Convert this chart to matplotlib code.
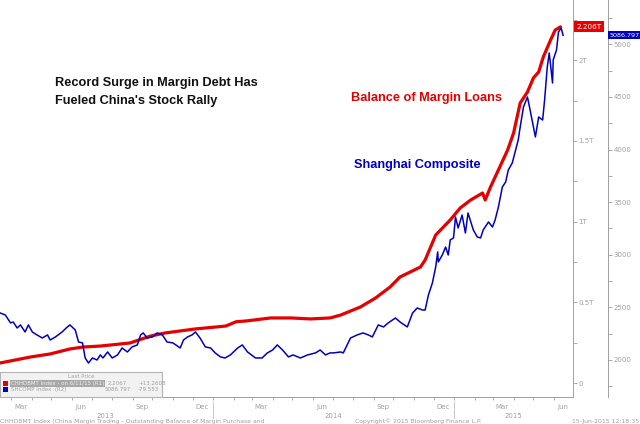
import pandas as pd
import matplotlib
matplotlib.use("Agg")
from matplotlib import pyplot as plt
import matplotlib.dates as mdates
from matplotlib.patches import Rectangle
from matplotlib.ticker import FixedLocator, FixedFormatter, MultipleLocator, FuncFormatter
from matplotlib.transforms import blended_transform_factory

# Balance of margin loans (trillion yuan)
margin_dates = ["2013-02-12", "2013-03-30", "2013-04-29", "2013-05-29", "2013-06-18", "2013-07-14",
                "2013-08-28", "2013-09-28", "2013-10-20", "2013-12-05", "2014-01-20", "2014-02-05",
                "2014-02-19", "2014-03-29", "2014-04-29", "2014-05-28", "2014-06-27", "2014-07-13",
                "2014-08-12", "2014-09-04", "2014-09-26", "2014-10-11", "2014-11-11", "2014-11-18",
                "2014-12-04", "2014-12-26", "2015-01-10", "2015-01-26", "2015-02-13", "2015-02-17",
                "2015-02-25", "2015-03-09", "2015-03-23", "2015-04-01", "2015-04-11", "2015-04-22",
                "2015-05-01", "2015-05-09", "2015-05-16", "2015-05-27", "2015-06-03", "2015-06-11"]
margin_loans = [0.124, 0.161, 0.180, 0.211, 0.223, 0.229,
                0.248, 0.291, 0.310, 0.335, 0.353, 0.380,
                0.384, 0.403, 0.403, 0.397, 0.403, 0.421,
                0.471, 0.527, 0.595, 0.657, 0.719, 0.762,
                0.917, 1.010, 1.084, 1.134, 1.177, 1.134,
                1.214, 1.320, 1.444, 1.549, 1.735, 1.803,
                1.890, 1.927, 2.020, 2.125, 2.187, 2.2067]

# Shanghai Composite index
shcomp_dates = ["2013-02-12", "2013-02-20", "2013-02-28", "2013-03-04", "2013-03-10", "2013-03-15",
                "2013-03-22", "2013-03-27", "2013-04-02", "2013-04-09", "2013-04-17", "2013-04-25",
                "2013-04-29", "2013-05-07", "2013-05-17", "2013-05-25", "2013-05-29", "2013-06-06",
                "2013-06-11", "2013-06-17", "2013-06-21", "2013-06-26", "2013-07-02", "2013-07-09",
                "2013-07-14", "2013-07-18", "2013-07-25", "2013-08-01", "2013-08-09", "2013-08-16",
                "2013-08-24", "2013-08-31", "2013-09-08", "2013-09-13", "2013-09-17", "2013-09-23",
                "2013-10-01", "2013-10-08", "2013-10-16", "2013-10-23", "2013-11-01", "2013-11-12",
                "2013-11-17", "2013-11-23", "2013-11-30", "2013-12-05", "2013-12-12", "2013-12-20",
                "2013-12-28", "2014-01-04", "2014-01-12", "2014-01-19", "2014-01-27", "2014-02-07",
                "2014-02-14", "2014-02-22", "2014-03-06", "2014-03-16", "2014-03-24", "2014-04-01",
                "2014-04-08", "2014-04-16", "2014-04-25", "2014-05-02", "2014-05-13", "2014-05-24",
                "2014-06-05", "2014-06-12", "2014-06-20", "2014-06-27", "2014-07-02", "2014-07-13",
                "2014-07-17", "2014-07-28", "2014-08-07", "2014-08-16", "2014-08-24", "2014-08-30",
                "2014-09-08", "2014-09-16", "2014-09-23", "2014-10-04", "2014-10-11", "2014-10-22",
                "2014-10-30", "2014-11-06", "2014-11-14", "2014-11-18", "2014-11-23", "2014-11-29",
                "2014-12-04", "2014-12-07", "2014-12-08", "2014-12-14", "2014-12-19", "2014-12-23",
                "2014-12-26", "2014-12-31", "2015-01-03", "2015-01-07", "2015-01-13", "2015-01-18",
                "2015-01-22", "2015-01-30", "2015-02-05", "2015-02-10", "2015-02-14", "2015-02-22",
                "2015-02-28", "2015-03-04", "2015-03-09", "2015-03-15", "2015-03-20", "2015-03-24",
                "2015-03-30", "2015-04-04", "2015-04-08", "2015-04-11", "2015-04-16", "2015-04-22",
                "2015-04-26", "2015-05-04", "2015-05-09", "2015-05-15", "2015-05-18", "2015-05-22",
                "2015-05-25", "2015-05-30", "2015-05-31", "2015-06-05", "2015-06-08", "2015-06-12",
                "2015-06-15"]
shcomp_close = [2447, 2428, 2352, 2361, 2304, 2333,
                2266, 2333, 2266, 2238, 2209, 2238,
                2190, 2219, 2266, 2314, 2333, 2285,
                2171, 2162, 2019, 1971, 2019, 2000,
                2048, 2019, 2076, 2019, 2048, 2114,
                2076, 2124, 2143, 2238, 2257, 2209,
                2219, 2257, 2238, 2171, 2162, 2114,
                2190, 2219, 2238, 2266, 2209, 2124,
                2114, 2067, 2029, 2019, 2048, 2114,
                2143, 2076, 2019, 2019, 2067, 2095,
                2143, 2095, 2029, 2048, 2019, 2048,
                2067, 2095, 2048, 2067, 2067, 2076,
                2067, 2209, 2238, 2257, 2238, 2219,
                2333, 2314, 2352, 2399, 2361, 2314,
                2447, 2494, 2475, 2475, 2618, 2732,
                2884, 3027, 2932, 2998, 3074, 2998,
                3141, 3160, 3359, 3255, 3378, 3207,
                3397, 3236, 3169, 3160, 3236, 3312,
                3264, 3331, 3454, 3645, 3692, 3806,
                3873, 3996, 4091, 4215, 4405, 4500,
                4377, 4120, 4310, 4281, 4472, 4785,
                4918, 4633, 4852, 4947, 5118, 5156,
                5087]

month_labels = ["Mar", "Jun", "Sep", "Dec", "Mar", "Jun", "Sep", "Dec", "Mar", "Jun"]
month_label_dates = ["2013-03-15", "2013-06-15", "2013-09-15", "2013-12-15", "2014-03-15",
                     "2014-06-15", "2014-09-15", "2014-12-15", "2015-03-15", "2015-06-15"]
year_labels = ["2013", "2014", "2015"]
year_label_dates = ["2013-07-22", "2014-07-02", "2015-04-01"]
year_breaks = ["2014-01-01", "2015-01-01"]

margin_tag = "2.206T"
shcomp_tag = "5086.797"

gray = "#a0a0a0"
red = "#e60000"
blue = "#0000c0"
narrow = ["Liberation Sans Narrow", "Liberation Sans", "DejaVu Sans"]


def fx(x):
    return x / 640


def fy(y):
    return 1 - y / 424


fig = plt.figure(figsize=(6.4, 4.24), dpi=100)
ax1 = fig.add_axes([0, 27 / 424, 573 / 640, 397 / 424])
ax1.plot(pd.to_datetime(margin_dates), margin_loans, color=red, lw=2.3, solid_capstyle="round")
ax2 = ax1.twinx()
ax2.plot(pd.to_datetime(shcomp_dates), shcomp_close, color=blue, lw=1.1)

ax1.set_xlim(pd.Timestamp("2013-02-12"), pd.Timestamp("2015-06-30"))
ax1.set_ylim(-0.0867, 2.373)
ax2.set_ylim(1648, 5422)

for s in ["left", "top"]:
    ax1.spines[s].set_visible(False)
    ax2.spines[s].set_visible(False)
ax2.spines["bottom"].set_visible(False)
ax1.spines["bottom"].set_color(gray)
ax1.spines["right"].set_color(gray)
ax2.spines["right"].set_color(gray)
ax2.spines["right"].set_position(("axes", 608 / 573))
for s in ax1.spines.values():
    s.set_linewidth(0.7)
for s in ax2.spines.values():
    s.set_linewidth(0.7)

# y axes
ax1.yaxis.tick_right()
ax1.yaxis.set_major_locator(FixedLocator([0, 0.5, 1, 1.5, 2]))
ax1.yaxis.set_major_formatter(FuncFormatter(lambda v, p: "0" if v == 0 else f"{v:g}T"))
ax1.yaxis.set_minor_locator(MultipleLocator(0.25))
ax2.yaxis.set_major_locator(MultipleLocator(500))
ax2.yaxis.set_minor_locator(MultipleLocator(250))
for ax in (ax1, ax2):
    ax.tick_params(axis="y", which="both", direction="out", length=3, width=0.6,
                   color=gray, labelsize=5, labelcolor=gray, pad=1)

# x axis
ax1.xaxis.set_major_locator(FixedLocator(mdates.date2num(pd.to_datetime(month_label_dates))))
ax1.xaxis.set_major_formatter(FixedFormatter(month_labels))
ax1.xaxis.set_minor_locator(mdates.MonthLocator())
ax1.tick_params(axis="x", which="major", length=0, labelsize=5, labelcolor=gray, pad=5)
ax1.tick_params(axis="x", which="minor", length=2, width=0.6, color=gray, direction="out")

xtr = ax1.get_xaxis_transform()
for d, lab in zip(year_label_dates, year_labels):
    ax1.text(pd.Timestamp(d), -0.047, lab, transform=xtr, ha="center", va="center",
             fontsize=5, color=gray)
for d in year_breaks:
    ax1.plot([pd.Timestamp(d)] * 2, [-0.012, -0.053], transform=xtr, clip_on=False,
             color="#c0c0c0", lw=0.6)

# last value tags
tr1 = blended_transform_factory(ax1.transAxes, ax1.transData)
ax1.text(1.006, margin_loans[-1], margin_tag, transform=tr1, ha="left", va="center",
         fontsize=5.2, color="white", clip_on=False,
         bbox=dict(boxstyle="square,pad=0.35", fc=red, ec="none"))
tr2 = blended_transform_factory(ax2.transAxes, ax2.transData)
ax2.text(608 / 573 + 0.003, shcomp_close[-1], shcomp_tag, transform=tr2, ha="left", va="center",
         fontsize=4.6, color="white", clip_on=False,
         bbox=dict(boxstyle="square,pad=0.2", fc=blue, ec="none"))

# annotations
fig.text(fx(55), fy(83), "Record Surge in Margin Debt Has", fontsize=9.2, weight="bold",
         family=narrow, va="center", color="#111111")
fig.text(fx(55), fy(101), "Fueled China's Stock Rally", fontsize=9.2, weight="bold",
         family=narrow, va="center", color="#111111")
fig.text(fx(351), fy(98), "Balance of Margin Loans", fontsize=9.2, weight="bold",
         family=narrow, va="center", color=red)
fig.text(fx(354), fy(165), "Shanghai Composite", fontsize=9.2, weight="bold",
         family=narrow, va="center", color=blue)

# legend panel
fig.add_artist(Rectangle((fx(0), fy(397)), fx(162), 25 / 424, transform=fig.transFigure,
                         fc="#f2f2f2", ec="#b4b4b4", lw=0.8))
fig.add_artist(Rectangle((fx(10), fy(386.5)), fx(95), 6.5 / 424, transform=fig.transFigure,
                         fc="#a8a8a8", ec="none"))
fig.add_artist(Rectangle((fx(3), fy(386)), fx(5), 5 / 424, transform=fig.transFigure,
                         fc=red, ec="none"))
fig.add_artist(Rectangle((fx(3), fy(392)), fx(5), 5 / 424, transform=fig.transFigure,
                         fc=blue, ec="none"))
fig.text(fx(81), fy(377), "Last Price", fontsize=4, color=gray, ha="center", va="center")
fig.text(fx(11), fy(383.3), "CHHDBMT Index - on 6/11/15 (R1)", fontsize=4, color="#eeeeee",
         va="center")
fig.text(fx(108), fy(383.3), "2.2067", fontsize=4, color=gray, va="center")
fig.text(fx(138), fy(383.3), "+13.2608", fontsize=4, color=gray, va="center")
fig.text(fx(11), fy(389.5), "SHCOMP Index  (R2)", fontsize=4, color=gray, va="center")
fig.text(fx(105), fy(389.5), "5086.797", fontsize=4, color=gray, va="center")
fig.text(fx(138), fy(389.5), "-79.553", fontsize=4, color=gray, va="center")

# footer
fig.text(fx(0), fy(421), "CHHDBMT Index (China Margin Trading - Outstanding Balance of Margin Purchase and",
         fontsize=4.4, color=gray, va="center")
fig.text(fx(418), fy(421), "Copyright\u00a9 2015 Bloomberg Finance L.P.", fontsize=4.4,
         color=gray, va="center", ha="center")
fig.text(fx(639), fy(421), "15-Jun-2015 12:18:35", fontsize=4.4, color=gray, va="center", ha="right")

fig.savefig("out.png", dpi=100, facecolor="white")
plt.close("all")
